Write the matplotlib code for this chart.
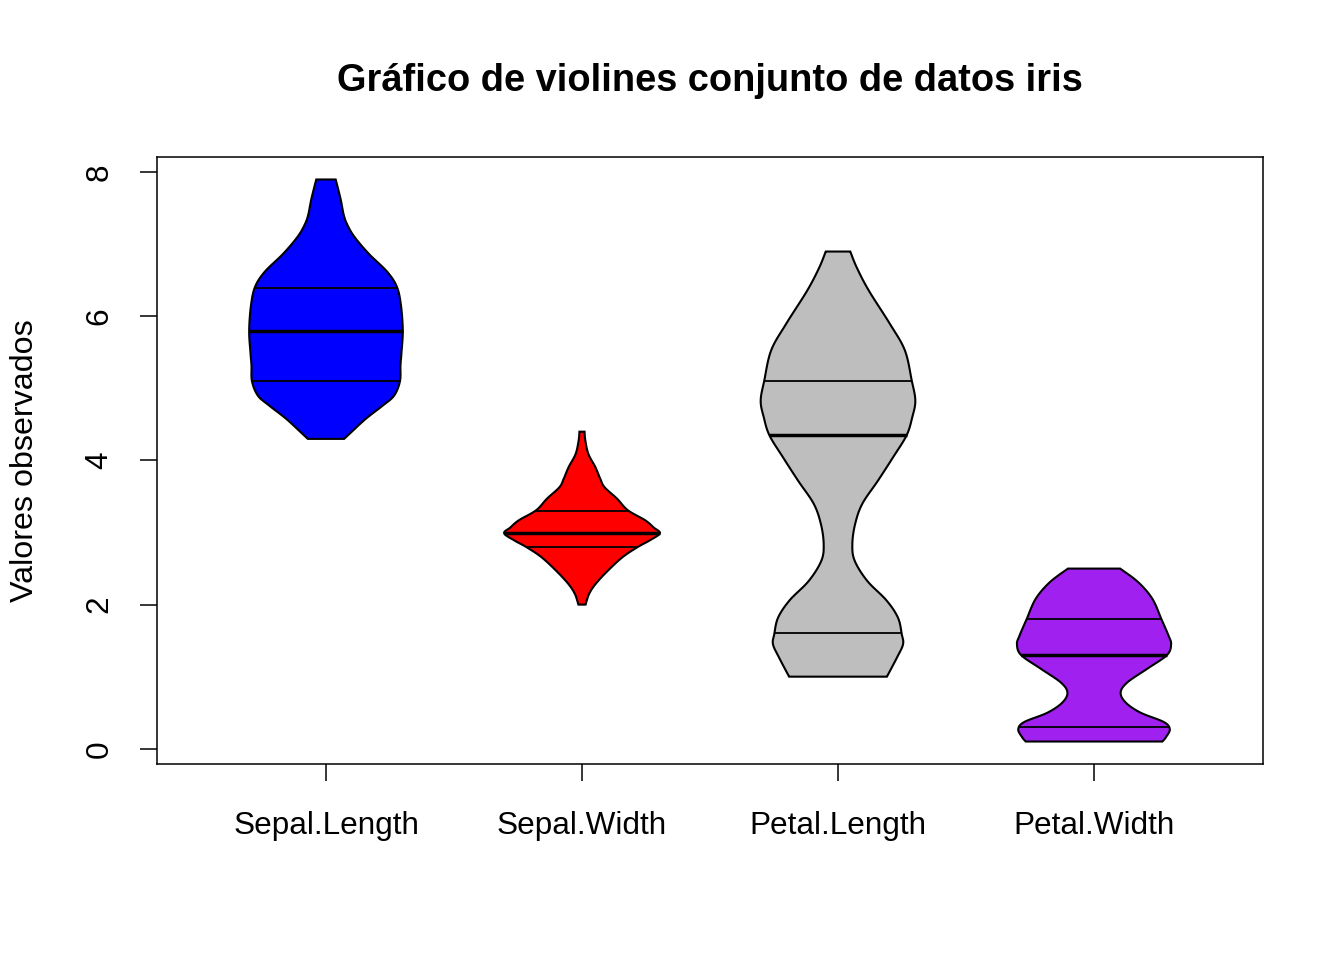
import numpy as np
import matplotlib
matplotlib.use("Agg")
import matplotlib.pyplot as plt

plt.rcParams['font.family'] = ['Liberation Sans', 'DejaVu Sans']

title = "Gráfico de violines conjunto de datos iris"
ylabel = "Valores observados"
categories = ["Sepal.Length", "Sepal.Width", "Petal.Length", "Petal.Width"]
colors = ["#0000FF", "#FF0000", "#BEBEBE", "#A020F0"]

# violin outline profiles: level (value) and half-width
sl_levels = [4.30, 4.39, 4.58, 4.76, 4.90, 5.10, 5.32, 5.50, 5.80, 6.15, 6.41, 6.62, 6.87, 7.10, 7.26, 7.40, 7.63, 7.90]
sl_half = [0.071, 0.098, 0.156, 0.221, 0.266, 0.289, 0.291, 0.295, 0.300, 0.293, 0.277, 0.239, 0.167, 0.112, 0.085, 0.070, 0.057, 0.038]

sw_levels = [2.00, 2.15, 2.29, 2.47, 2.66, 2.80, 2.89, 2.99, 3.07, 3.17, 3.31, 3.47, 3.63, 3.75, 3.91, 4.09, 4.28, 4.40]
sw_half = [0.014, 0.028, 0.054, 0.101, 0.159, 0.218, 0.264, 0.304, 0.280, 0.247, 0.179, 0.137, 0.088, 0.071, 0.052, 0.025, 0.013, 0.010]

pl_levels = [1.00, 1.27, 1.45, 1.59, 1.82, 2.06, 2.33, 2.61, 2.84, 3.12, 3.40, 3.72, 4.05, 4.35, 4.60, 4.83, 5.11, 5.53, 5.90, 6.36, 6.68, 6.90]
pl_half = [0.191, 0.231, 0.254, 0.249, 0.234, 0.189, 0.114, 0.065, 0.056, 0.067, 0.095, 0.156, 0.216, 0.268, 0.290, 0.302, 0.288, 0.261, 0.202, 0.120, 0.073, 0.048]

pw_levels = [0.10, 0.16, 0.27, 0.37, 0.50, 0.64, 0.78, 0.92, 1.11, 1.30, 1.45, 1.57, 1.80, 2.08, 2.31, 2.50]
pw_half = [0.267, 0.281, 0.296, 0.273, 0.182, 0.124, 0.104, 0.130, 0.208, 0.285, 0.301, 0.291, 0.263, 0.228, 0.173, 0.102]

# quartiles and medians
q1 = [5.1, 2.8, 1.6, 0.3]
medians = [5.8, 3.0, 4.35, 1.3]
q3 = [6.4, 3.3, 5.1, 1.8]

profiles = [(sl_levels, sl_half), (sw_levels, sw_half), (pl_levels, pl_half), (pw_levels, pw_half)]


def smooth(ys, ws, n=12):
    """Catmull-Rom curve through the read outline points (drawing only)."""
    P = np.column_stack([ys, ws]).astype(float)
    P = np.vstack([P[0], P, P[-1]])
    out = []
    t = np.linspace(0, 1, n, endpoint=False)[:, None]
    for i in range(1, len(P) - 2):
        p0, p1, p2, p3 = P[i - 1], P[i], P[i + 1], P[i + 2]
        seg = 0.5 * ((2 * p1) + (-p0 + p2) * t + (2 * p0 - 5 * p1 + 4 * p2 - p3) * t ** 2
                     + (-p0 + 3 * p1 - 3 * p2 + p3) * t ** 3)
        out.append(seg)
    out.append(P[-2][None, :])
    out = np.vstack(out)
    return out[:, 0], out[:, 1]


fig = plt.figure(figsize=(13.44, 9.6), dpi=100)
ax = fig.add_axes([157 / 1344, 1 - 764 / 960, (1263 - 157) / 1344, (764 - 157) / 960])

for i, ((lv, hw), col) in enumerate(zip(profiles, colors)):
    pos = i + 1
    yy, ww = smooth(lv, hw)
    xs = np.concatenate([pos - ww, (pos + ww)[::-1]])
    ys = np.concatenate([yy, yy[::-1]])
    ax.fill(xs, ys, facecolor=col, edgecolor='black', linewidth=1.5, zorder=2)
    for val, lw in ((q1[i], 1.3), (q3[i], 1.3), (medians[i], 2.5)):
        h = np.interp(val, yy, ww)
        ax.plot([pos - h, pos + h], [val, val], color='black', linewidth=lw,
                solid_capstyle='butt', zorder=3)

ax.set_xlim(0.34, 4.66)
ax.set_ylim(-0.212, 8.212)
ax.set_xticks(range(1, 5))
ax.set_xticklabels(categories)
ax.set_yticks([0, 2, 4, 6, 8])
ax.set_yticklabels(["0", "2", "4", "6", "8"], rotation=90, va='center')
ax.tick_params(axis='both', direction='out', length=12.5, width=1.1, labelsize=22.7, colors='black')
ax.tick_params(axis='x', pad=21)
ax.tick_params(axis='y', pad=18)
for s in ax.spines.values():
    s.set_linewidth(1.1)
    s.set_color('black')

fig.text(710 / 1344, 1 - 81 / 960, title, ha='center', va='center', fontsize=27.4, fontweight='bold')
fig.text(25 / 1344, 1 - 460.5 / 960, ylabel, ha='center', va='center', rotation=90, fontsize=23.2)

fig.savefig("out.png", dpi=100, facecolor='white')
